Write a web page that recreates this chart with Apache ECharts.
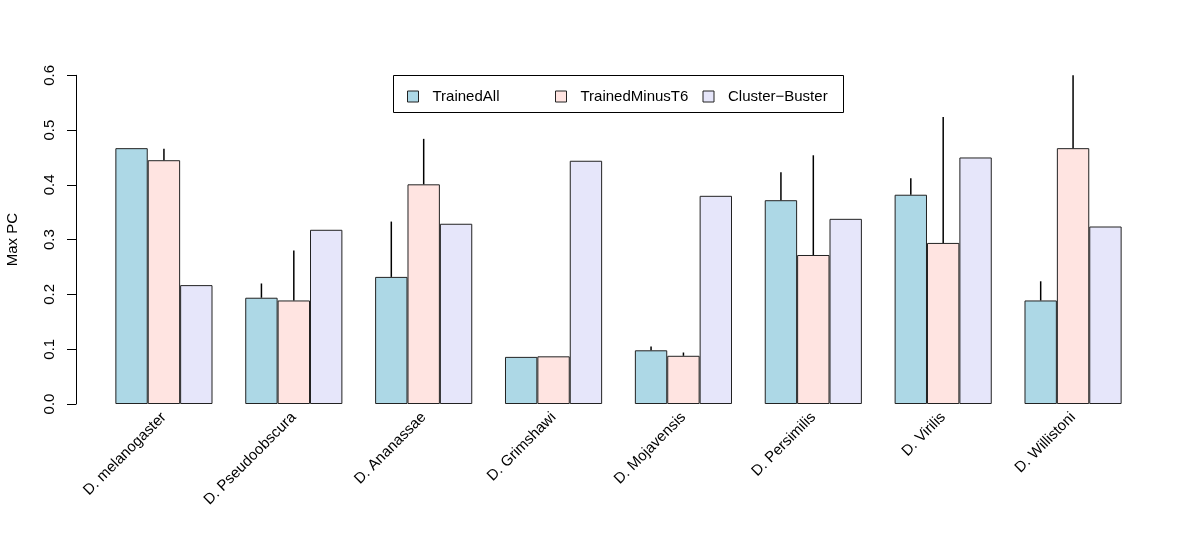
<!DOCTYPE html>
<html><head><meta charset="utf-8">
<script src="https://cdn.jsdelivr.net/npm/echarts@6/dist/echarts.min.js"></script>
<style>html,body{margin:0;padding:0;background:#fff}#c{width:1200px;height:554px}</style>
</head><body><div id="c"></div>
<script>
const categories = ['D. melanogaster','D. Pseudoobscura','D. Ananassae','D. Grimshawi','D. Mojavensis','D. Persimilis','D. Virilis','D. Willistoni'];
const trainedAll = [0.467,0.194,0.232,0.086,0.098,0.372,0.382,0.189];
const trainedAllErrTop = [0.467,0.220,0.333,0.086,0.105,0.423,0.412,0.224];
const trainedMinusT6 = [0.445,0.189,0.401,0.087,0.088,0.272,0.294,0.467];
const trainedMinusT6ErrTop = [0.466,0.280,0.484,0.087,0.094,0.454,0.524,0.600];
const clusterBuster = [0.217,0.318,0.329,0.444,0.380,0.338,0.450,0.324];
const clusterBusterErrTop = [0.217,0.318,0.329,0.444,0.380,0.338,0.450,0.324];
const yTicks = [0.0,0.1,0.2,0.3,0.4,0.5,0.6];

const FONT = "'Liberation Sans', Arial, sans-serif";
const FS = 15;
const names = ['TrainedAll','TrainedMinusT6','Cluster\u2212Buster'];
const colors = ['#ADD8E6','#FFE4E1','#E6E6FA'];
const vals = [trainedAll, trainedMinusT6, clusterBuster];
const errs = [trainedAllErrTop, trainedMinusT6ErrTop, clusterBusterErrTop];
const CAT_FILL = 0.748;

const chart = echarts.init(document.getElementById('c'), null, {renderer:'canvas'});
const series = [];
vals.forEach((v,i)=>{
  series.push({
    name: names[i], type:'bar', data: v,
    barGap: '0%', barCategoryGap: ((1-CAT_FILL)*100).toFixed(1)+'%',
    itemStyle:{color: colors[i], borderColor:'#222', borderWidth:1},
    emphasis:{disabled:true}, animation:false
  });
});
errs.forEach((e,i)=>{
  series.push({
    type:'custom', animation:false, silent:true, z:5,
    data: e.map((t,k)=>[k, vals[i][k], t]),
    renderItem: function(params, api){
      const catW = api.size([1,0])[0];
      const bw = catW*CAT_FILL/3;
      const p0 = api.coord([api.value(0), api.value(1)]);
      const p1 = api.coord([api.value(0), api.value(2)]);
      const x = p0[0] + (i-1)*bw;
      return {type:'line', shape:{x1:x,y1:p0[1],x2:x,y2:p1[1]}, style:{stroke:'#000', lineWidth:1.5}};
    }
  });
});

const legendLefts = [407, 555, 702.5];
const legends = names.map((n,i)=>({
  data:[n], left: legendLefts[i], top: 89, padding: 0, orient:'horizontal',
  itemWidth: 11, itemHeight: 11, icon: 'rect', selectedMode:false,
  itemStyle:{borderColor:'#222', borderWidth:1},
  textStyle:{fontFamily:FONT, fontSize:FS, color:'#000', padding:[0,0,0,9]}
}));

chart.setOption({
  backgroundColor:'#fff',
  animation:false,
  textStyle:{fontFamily:FONT},
  grid:{left:99, right:62, top:75.3, bottom:150, containLabel:false, outerBoundsMode:'none'},
  legend: legends,
  graphic:[{type:'rect', shape:{x:393.5, y:75.5, width:450, height:37}, style:{fill:'none', stroke:'#000', lineWidth:1}, silent:true}],
  xAxis:{
    type:'category', data: categories,
    axisLine:{show:false}, axisTick:{show:false},
    axisLabel:{rotate:45, margin:11, fontSize:FS, color:'#000', fontFamily:FONT, interval:0}
  },
  yAxis:{
    type:'value', min:0, max:0.6, interval:0.1, offset:23,
    name:'Max PC', nameLocation:'middle', nameGap:56,
    nameTextStyle:{fontSize:FS, color:'#000', fontFamily:FONT},
    axisLine:{show:true, lineStyle:{color:'#000', width:1}},
    axisTick:{show:true, length:9, lineStyle:{color:'#000'}},
    splitLine:{show:false},
    axisLabel:{rotate:90, margin:19, fontSize:FS, color:'#000', fontFamily:FONT,
      formatter: v => yTicks.find(t=>Math.abs(t-v)<1e-9).toFixed(1)}
  },
  series: series
});
</script></body></html>
